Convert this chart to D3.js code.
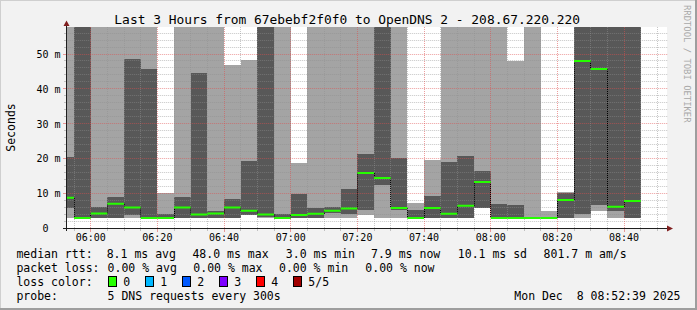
<!DOCTYPE html>
<html><head><meta charset="utf-8">
<script src="https://cdn.jsdelivr.net/npm/d3@7"></script>
<style>
html,body{margin:0;padding:0;background:#f2f2f2;}
svg{display:block;}
text{font-family:"DejaVu Sans Mono",monospace;fill:#000;}
</style>
</head><body>
<svg id="chart" width="697" height="310"></svg>
<script>
// ---------- data ----------
const titleText = "Last 3 Hours from 67ebebf2f0f0 to OpenDNS 2 - 208.67.220.220";
const startTime = "05:52:39";
const endTime = "08:52:39";
const stepMinutes = 5;
// end time of each 5-minute RRD slot
const slots = ["05:55","06:00","06:05","06:10","06:15","06:20","06:25","06:30","06:35","06:40",
  "06:45","06:50","06:55","07:00","07:05","07:10","07:15","07:20","07:25","07:30",
  "07:35","07:40","07:45","07:50","07:55","08:00","08:05","08:10","08:15","08:20",
  "08:25","08:30","08:35","08:40","08:45"];
// sorted pings (ms): min, 2nd, median, 4th, max
const pingMin = [3.0,2.9,2.9,2.9,2.9,2.9,2.9,2.9,2.9,2.9,2.9,3.8,2.9,2.8,2.9,2.9,2.9,2.9,3.9,2.9,
  2.9,2.9,2.9,2.9,2.9,5.9,2.9,2.9,2.9,2.9,2.9,2.9,5.1,2.9,2.9];
const ping2 = [5.8,3.0,3.0,3.0,3.9,3.0,3.0,3.0,3.0,3.0,3.0,3.9,3.2,2.9,3.0,3.0,4.5,4.1,5.3,12.5,
  5.3,3.0,3.0,3.0,3.0,6.0,3.0,3.0,3.0,3.0,3.0,4.1,6.7,5.1,3.0];
const pingMedian = [8.8,3.0,4.3,7.1,6.0,3.0,3.0,6.0,4.0,4.3,6.0,5.1,4.0,3.0,3.9,4.2,5.1,5.7,15.9,14.5,
  5.9,3.0,5.9,4.2,6.5,13.3,3.0,3.0,3.0,3.0,8.2,48.0,45.7,6.2,7.9];
const ping4 = [20.6,62,6.2,9.1,48.6,45.7,4.1,9.1,44.7,5.0,8.5,19.3,63,4.1,9.9,6.0,6.2,11.3,21.4,64,
  20.2,5.3,9.3,19.1,20.8,16.5,7.0,6.7,3.1,3.1,10.2,64,63,62,63];
const pingMax = [65,75,64,66,70,68,10.1,63,66,64,46.9,48.3,72,62,18.9,63,65,64,66,70,
  67,7.3,19.6,64,65,66,63,48.1,62,5.1,10.4,70,68,66,67];
const yTickValues = [0,10,20,30,40,50];
const yTickLabels = ["0  ","10 m","20 m","30 m","40 m","50 m"];
const xTickLabels = ["06:00","06:20","06:40","07:00","07:20","07:40","08:00","08:20","08:40"];
const lossLabels = ["0","1","2","3","4","5/5"];
const lossColors = ["#26ff00","#00b8ff","#0059ff","#7e00ff","#ff0000","#a10000"];
const legendRtt = [["8.1 ms avg",106.7],["48.0 ms max",192.4],["3.0 ms min",285.8],["7.9 ms now",371],["10.1 ms sd",457.8],["801.7 m am/s",543.6]];
const legendLoss = [["0.00 % avg",107.6],["0.00 % max",193.3],["0.00 % min",279],["0.00 % now",365.3]];
const probeText = "5 DNS requests every 300s";
const stampText = "Mon Dec  8 08:52:39 2025";

// ---------- layout ----------
const W = 697, H = 310;
const L = 66.2, R = 666.2, T = 27, B = 228.5;
const svg = d3.select("#chart");
const parseS = d3.timeParse("%H:%M:%S"), parseM = d3.timeParse("%H:%M");
const t0 = parseS(startTime), t1 = parseS(endTime);
const x = d3.scaleTime().domain([t0, t1]).range([L, R]);
const y = d3.scaleLinear().domain([0, 57.74]).range([B, T]);

// background & frame
svg.append("rect").attr("width", W).attr("height", H).attr("fill", "#f2f2f2");
svg.append("rect").attr("x", 0).attr("y", 0).attr("width", W).attr("height", 1).attr("fill", "#cfcfcf");
svg.append("rect").attr("x", 0).attr("y", 0).attr("width", 1).attr("height", H).attr("fill", "#cfcfcf");
svg.append("rect").attr("x", 0).attr("y", H-2).attr("width", W).attr("height", 2).attr("fill", "#9e9e9e");
svg.append("rect").attr("x", W-2).attr("y", 0).attr("width", 2).attr("height", H).attr("fill", "#9e9e9e");

// canvas
svg.append("rect").attr("x", 67).attr("y", T).attr("width", R - 67 + 0.8).attr("height", B - T).attr("fill", "#fff");

svg.append("clipPath").attr("id", "plotclip").append("rect")
  .attr("x", L).attr("y", T).attr("width", R - L + 1).attr("height", B - T);

const bars = slots.map((s, i) => {
  const e = parseM(s);
  const st = new Date(Math.max(+t0, +d3.timeMinute.offset(e, -stepMinutes)));
  return {x0: x(st), x1: x(e), mn: pingMin[i], p2: ping2[i], md: pingMedian[i], p4: ping4[i], mx: pingMax[i]};
});

const g = svg.append("g").attr("clip-path", "url(#plotclip)");
g.selectAll("rect.outer").data(bars).join("rect").attr("class", "outer")
  .attr("x", d => d.x0).attr("width", d => d.x1 - d.x0)
  .attr("y", d => y(d.mx)).attr("height", d => y(d.mn) - y(d.mx))
  .attr("fill", "#a4a4a4").attr("shape-rendering", "crispEdges");
g.selectAll("rect.inner").data(bars).join("rect").attr("class", "inner")
  .attr("x", d => d.x0).attr("width", d => d.x1 - d.x0)
  .attr("y", d => y(d.p4)).attr("height", d => y(d.p2) - y(d.p4))
  .attr("fill", "#585858").attr("shape-rendering", "crispEdges");

// grid on top
const gridMinor = "rgba(143,143,143,0.5)", gridMajor = "rgba(222,79,79,0.55)";
const gg = svg.append("g");
const yMinor = d3.range(2, 57, 2).filter(v => v % 10 !== 0);
const yMajor = yTickValues.filter(v => v > 0);
const px = v => Math.round(v - 0.5) + 0.5;
gg.selectAll("line.hmin").data(yMinor).join("line")
  .attr("x1", L).attr("x2", R + 1).attr("y1", d => px(y(d))).attr("y2", d => px(y(d)))
  .attr("stroke", gridMinor).attr("stroke-dasharray", "1,1");
gg.selectAll("line.hmaj").data(yMajor).join("line")
  .attr("x1", L).attr("x2", R + 1).attr("y1", d => px(y(d))).attr("y2", d => px(y(d)))
  .attr("stroke", gridMajor).attr("stroke-dasharray", "1,1");
const vMinor = d3.timeMinute.every(5).range(t0, t1).filter(d => d.getMinutes() % 20 !== 0);
const vMajor = d3.timeMinute.every(20).range(t0, t1);
gg.selectAll("line.vmin").data(vMinor).join("line")
  .attr("y1", T).attr("y2", B).attr("x1", d => px(x(d))).attr("x2", d => px(x(d)))
  .attr("stroke", gridMinor).attr("stroke-dasharray", "1,1");
gg.selectAll("line.vmaj").data(vMajor).join("line")
  .attr("y1", T).attr("y2", B).attr("x1", d => px(x(d))).attr("x2", d => px(x(d)))
  .attr("stroke", gridMajor).attr("stroke-dasharray", "1,1");

// median line
const mg = svg.append("g").attr("clip-path", "url(#plotclip)");
for (let i = 0; i < bars.length - 1; i++) {
  const a = bars[i], b = bars[i + 1];
  if (Math.abs(y(a.md) - y(b.md)) > 1.5) {
    mg.append("line").attr("x1", px(a.x1)).attr("x2", px(a.x1))
      .attr("y1", y(a.md)).attr("y2", y(b.md))
      .attr("stroke", "#000").attr("stroke-width", 1).attr("stroke-dasharray", "1,1");
  }
}
mg.selectAll("line.med").data(bars).join("line")
  .attr("x1", d => d.x0).attr("x2", d => d.x1)
  .attr("y1", d => y(d.md)).attr("y2", d => y(d.md))
  .attr("stroke", lossColors[0]).attr("stroke-width", 2);

// axes
const axisCol = "#1f1f1f", arrowCol = "#801f1f";
svg.selectAll("line.ytk").data(yMinor).join("line")
  .attr("x1", 64).attr("x2", 66).attr("y1", d => px(y(d))).attr("y2", d => px(y(d))).attr("stroke", gridMinor);
svg.selectAll("line.ytkM").data(yMajor).join("line")
  .attr("x1", 63).attr("x2", 66).attr("y1", d => px(y(d))).attr("y2", d => px(y(d))).attr("stroke", gridMajor);
svg.selectAll("line.xtk").data(vMinor).join("line")
  .attr("y1", 229).attr("y2", 231).attr("x1", d => px(x(d))).attr("x2", d => px(x(d))).attr("stroke", gridMinor);
svg.selectAll("line.xtkM").data(vMajor).join("line")
  .attr("y1", 229).attr("y2", 232).attr("x1", d => px(x(d))).attr("x2", d => px(x(d))).attr("stroke", gridMajor);

svg.append("line").attr("x1", 63).attr("x2", 668).attr("y1", 228.5).attr("y2", 228.5).attr("stroke", axisCol);
svg.append("line").attr("x1", 66.5).attr("x2", 66.5).attr("y1", 231).attr("y2", 25).attr("stroke", axisCol);
svg.append("path").attr("d", "M667,225.5 L673,228.5 L667,231.5 Z").attr("fill", arrowCol);
svg.append("path").attr("d", "M63.5,26 L66.5,20.5 L69.5,26 Z").attr("fill", arrowCol);

// y labels
svg.selectAll("text.yl").data(yTickValues).join("text")
  .attr("x", 60.5).attr("y", d => y(d) + 3.7)
  .attr("text-anchor", "end").style("white-space", "pre").attr("font-size", "10px")
  .text((d, i) => yTickLabels[i]);
// x labels
svg.selectAll("text.xl").data(xTickLabels).join("text")
  .attr("x", d => x(parseM(d))).attr("y", 241)
  .attr("text-anchor", "middle").attr("font-size", "10px").text(d => d);

// title
svg.append("text").attr("x", 347.2).attr("y", 23.5).attr("text-anchor", "middle")
  .attr("font-size", "12.9px").text(titleText);
// y title
svg.append("text").attr("transform", "translate(15,127.5) rotate(-90)").attr("text-anchor", "middle")
  .attr("font-size", "11.5px").text("Seconds");
// watermark
svg.append("text").attr("transform", "translate(683.6,5) rotate(90)")
  .attr("font-size", "8.9px").style("fill", "#a8a8a8").text("RRDTOOL / TOBI OETIKER");

// legend
const lf = "11.5px";
const rows = [258.3, 272.3, 286.3, 300.3];
svg.append("text").attr("x", 16.4).attr("y", rows[0]).attr("font-size", lf).text("median rtt:");
legendRtt.forEach(([t, xx]) => svg.append("text").attr("x", xx).attr("y", rows[0]).attr("font-size", lf).text(t));
svg.append("text").attr("x", 16.4).attr("y", rows[1]).attr("font-size", lf).text("packet loss:");
legendLoss.forEach(([t, xx]) => svg.append("text").attr("x", xx).attr("y", rows[1]).attr("font-size", lf).text(t));
svg.append("text").attr("x", 16.4).attr("y", rows[2]).attr("font-size", lf).text("loss color:");
lossLabels.forEach((lab, i) => {
  const bx = 108.5 + i * 37;
  svg.append("rect").attr("x", bx).attr("y", 276.5).attr("width", 8).attr("height", 10)
    .attr("fill", lossColors[i]).attr("stroke", "#000").attr("stroke-width", 1);
  svg.append("text").attr("x", bx + 14.8).attr("y", rows[2]).attr("font-size", lf).text(lab);
});
svg.append("text").attr("x", 16.4).attr("y", rows[3]).attr("font-size", lf).text("probe:");
svg.append("text").attr("x", 107.6).attr("y", rows[3]).attr("font-size", lf).text(probeText);
svg.append("text").attr("x", 680.5).attr("y", rows[3]).attr("text-anchor", "end")
  .style("white-space", "pre").attr("font-size", lf).text(stampText);
</script>
</body></html>
